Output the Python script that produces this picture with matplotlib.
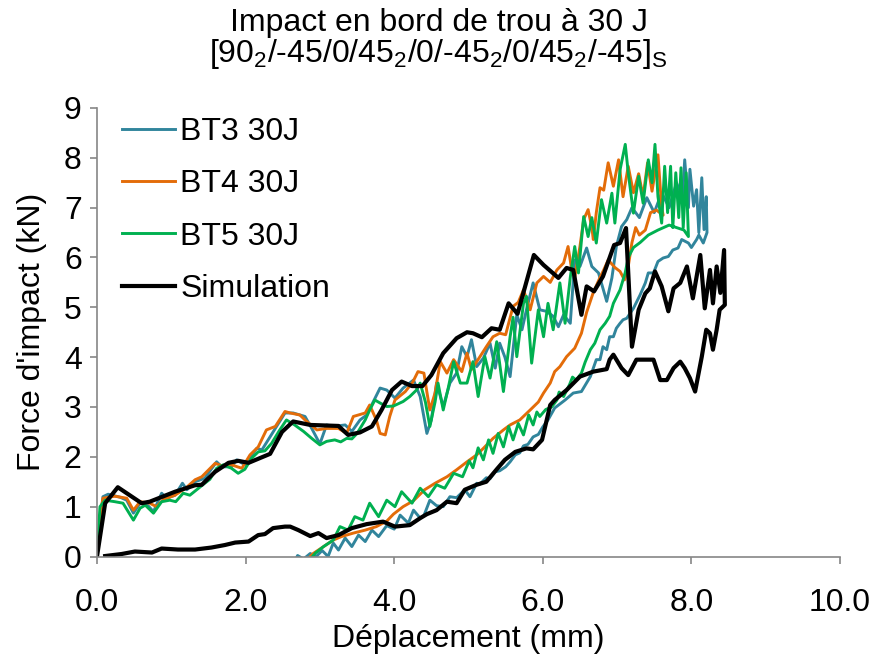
import matplotlib
matplotlib.use("Agg")
import matplotlib.pyplot as plt

plt.rcParams['font.family'] = ['Liberation Sans', 'DejaVu Sans']
plt.rcParams['mathtext.fontset'] = 'custom'
plt.rcParams['mathtext.rm'] = 'Liberation Sans'
plt.rcParams['mathtext.it'] = 'Liberation Sans'

# BT3 30J : loading branch then unloading branch (displacement mm, force kN)
bt3_x = [0, 0.08, 0.15, 0.31, 0.40, 0.49, 0.58, 0.65, 0.76, 0.87, 0.94, 1.05, 1.15, 1.21, 1.32, 1.45,
         1.61, 1.68, 1.81, 1.88, 1.99, 2.15, 2.22, 2.40, 2.53, 2.64, 2.80, 2.89, 3.00, 3.09, 3.18, 3.34,
         3.43, 3.54, 3.63, 3.81, 3.90, 4.01, 4.12, 4.26, 4.35, 4.44, 4.50, 4.57, 4.66, 4.75, 4.84, 4.91,
         4.98, 5.04, 5.11, 5.20, 5.29, 5.36, 5.42, 5.49, 5.56, 5.65, 5.72, 5.78, 5.87, 5.96, 6.05, 6.14,
         6.21, 6.28, 6.37, 6.43, 6.50, 6.59, 6.66, 6.75, 6.86, 6.93, 6.99, 7.06, 7.13, 7.20, 7.30, 7.40,
         7.50, 7.60, 7.70, 7.80, 7.88, 7.91, 7.96, 7.98, 8.03, 8.07, 8.10, 8.14, 8.17, 8.20, 8.21,
         8.16, 8.10, 8.07, 8.00, 7.96, 7.87, 7.82, 7.75, 7.69, 7.62, 7.55, 7.49, 7.42, 7.38, 7.31, 7.22,
         7.13, 7.08, 7.04, 6.99, 6.95, 6.90, 6.86, 6.81, 6.77, 6.72, 6.64, 6.52, 6.41, 6.30, 6.16, 6.07,
         6.00, 5.94, 5.87, 5.80, 5.74, 5.69, 5.63, 5.56, 5.50, 5.42, 5.36, 5.29, 5.24, 5.15, 5.11, 5.02,
         4.95, 4.84, 4.75, 4.66, 4.57, 4.48, 4.40, 4.35, 4.26, 4.19, 4.08, 4.00, 3.90, 3.79, 3.70, 3.61,
         3.52, 3.43, 3.34, 3.25, 3.18, 3.11, 3.03, 2.95, 2.87, 2.78, 2.70, 2.66]
bt3_y = [0, 1.20, 1.25, 1.19, 1.13, 0.87, 1.07, 1.08, 0.90, 1.27, 1.17, 1.23, 1.47, 1.34, 1.50, 1.57,
         1.90, 1.80, 1.80, 1.94, 1.84, 2.17, 2.14, 2.57, 2.88, 2.88, 2.81, 2.57, 2.26, 2.64, 2.61, 2.64,
         2.51, 2.74, 2.84, 3.38, 3.34, 3.18, 3.38, 3.54, 3.21, 2.47, 2.74, 3.48, 3.01, 3.48, 3.68, 4.21,
         4.01, 4.35, 3.81, 3.98, 4.28, 3.78, 4.28, 4.00, 3.61, 4.85, 4.55, 4.95, 5.49, 4.95, 4.92, 4.82,
         4.61, 4.85, 4.68, 5.95, 5.82, 6.19, 5.82, 5.69, 5.12, 5.59, 6.22, 6.62, 6.76, 7.00, 6.80, 7.20,
         6.90, 7.30, 7.00, 7.50, 7.20, 7.96, 7.00, 7.77, 7.03, 7.36, 6.50, 7.60, 6.56, 7.22, 6.50,
         6.29, 6.45, 6.36, 6.20, 6.29, 6.36, 6.19, 6.15, 6.02, 5.99, 5.92, 5.69, 5.69, 5.49, 5.25, 4.98,
         4.78, 4.75, 4.68, 4.58, 4.41, 4.41, 4.15, 4.21, 3.95, 3.95, 3.61, 3.31, 3.28, 3.14, 2.98, 2.74,
         2.60, 2.45, 2.40, 2.25, 2.22, 2.08, 2.04, 1.90, 1.80, 1.72, 1.70, 1.56, 1.58, 1.45, 1.47, 1.20,
         1.34, 1.18, 1.20, 1.00, 1.02, 1.13, 0.82, 0.77, 0.93, 0.67, 0.83, 0.55, 0.62, 0.40, 0.53, 0.30,
         0.43, 0.20, 0.37, 0.13, 0.27, 0.00, 0.12, 0.00, 0.06, -0.05, 0.02, -0.10]

# BT4 30J
bt4_x = [0, 0.05, 0.08, 0.24, 0.40, 0.49, 0.58, 0.71, 0.80, 0.90, 1.05, 1.20, 1.32, 1.41, 1.59, 1.68,
         1.81, 1.95, 2.06, 2.17, 2.28, 2.40, 2.53, 2.60, 2.73, 2.80, 2.96, 3.09, 3.25, 3.36, 3.45, 3.61,
         3.67, 3.76, 3.81, 3.88, 3.94, 4.01, 4.15, 4.25, 4.32, 4.40, 4.44, 4.48, 4.55, 4.62, 4.71, 4.80,
         4.91, 4.98, 5.04, 5.15, 5.24, 5.33, 5.42, 5.50, 5.60, 5.67, 5.74, 5.83, 5.92, 6.01, 6.10, 6.19,
         6.28, 6.34, 6.39, 6.43, 6.50, 6.55, 6.61, 6.66, 6.68, 6.72, 6.77, 6.82, 6.88, 6.95, 7.02, 7.08,
         7.15, 7.22, 7.29, 7.35, 7.41, 7.47, 7.55, 7.60, 7.62,
         7.53, 7.45, 7.38, 7.30, 7.25, 7.20, 7.15, 7.10, 7.04, 6.97, 6.88, 6.82, 6.77, 6.68, 6.59, 6.52,
         6.43, 6.32, 6.23, 6.16, 6.10, 6.01, 5.94, 5.83, 5.69, 5.56, 5.47, 5.33, 5.20, 5.11, 4.98, 4.84,
         4.71, 4.55, 4.41, 4.26, 4.12, 3.99, 3.90, 3.76, 3.61, 3.45, 3.29, 3.18, 3.05, 2.91, 2.87]
bt4_y = [0, 0.90, 1.17, 1.21, 1.17, 0.93, 1.10, 1.07, 1.00, 1.15, 1.23, 1.38, 1.54, 1.60, 1.87, 1.82,
         1.84, 1.77, 2.04, 2.20, 2.54, 2.61, 2.91, 2.88, 2.84, 2.74, 2.54, 2.57, 2.57, 2.47, 2.81, 2.88,
         3.04, 2.74, 2.47, 2.44, 2.81, 3.14, 3.31, 3.50, 3.71, 3.68, 3.30, 2.94, 3.28, 3.91, 3.68, 3.95,
         3.71, 4.08, 3.75, 4.00, 4.21, 4.41, 4.48, 4.45, 5.02, 5.10, 5.35, 4.95, 5.49, 5.62, 5.50, 5.75,
         5.89, 6.22, 5.75, 5.60, 6.22, 6.76, 6.96, 6.60, 6.36, 6.90, 7.40, 7.35, 7.90, 7.43, 7.96, 7.22,
         7.83, 7.30, 7.68, 7.22, 7.90, 7.33, 8.06, 7.00, 6.85,
         6.95, 6.90, 6.55, 6.45, 6.60, 6.30, 5.82, 5.55, 5.72, 5.80, 5.95, 5.75, 5.60, 5.30, 4.90, 4.48,
         4.18, 4.01, 3.81, 3.71, 3.48, 3.28, 3.10, 2.94, 2.74, 2.64, 2.54, 2.37, 2.17, 2.04, 1.90, 1.74,
         1.60, 1.47, 1.34, 1.12, 1.00, 0.85, 0.71, 0.60, 0.53, 0.47, 0.40, 0.33, 0.20, 0.06, 0.00]

# BT5 30J
bt5_x = [0, 0.04, 0.11, 0.24, 0.35, 0.42, 0.49, 0.58, 0.65, 0.76, 0.87, 0.98, 1.06, 1.16, 1.25, 1.39,
         1.45, 1.52, 1.61, 1.70, 1.81, 1.90, 1.99, 2.08, 2.17, 2.26, 2.35, 2.46, 2.55, 2.66, 2.78, 2.89,
         3.00, 3.09, 3.20, 3.28, 3.36, 3.43, 3.50, 3.61, 3.67, 3.74, 3.81, 3.90, 3.99, 4.12, 4.21, 4.30,
         4.35, 4.42, 4.48, 4.55, 4.59, 4.66, 4.73, 4.80, 4.89, 4.98, 5.06, 5.13, 5.22, 5.29, 5.38, 5.47,
         5.56, 5.60, 5.65, 5.74, 5.78, 5.85, 5.94, 6.01, 6.07, 6.14, 6.23, 6.30, 6.37, 6.43, 6.48, 6.55,
         6.61, 6.66, 6.72, 6.79, 6.86, 6.93, 6.97, 7.04, 7.11, 7.15, 7.22, 7.29, 7.35, 7.42, 7.47, 7.51,
         7.55, 7.60, 7.64, 7.68, 7.72, 7.75, 7.79, 7.83, 7.86, 7.89, 7.93, 7.96,
         7.90, 7.80, 7.70, 7.55, 7.42, 7.31, 7.22, 7.15, 7.11, 7.04, 6.95, 6.90, 6.84, 6.77, 6.70, 6.64,
         6.57, 6.52, 6.45, 6.40, 6.36, 6.28, 6.22, 6.19, 6.12, 6.04, 5.96, 5.92, 5.87, 5.81, 5.74, 5.67,
         5.60, 5.54, 5.47, 5.40, 5.33, 5.27, 5.20, 5.13, 5.06, 5.01, 4.92, 4.80, 4.68, 4.57, 4.46, 4.35,
         4.24, 4.10, 4.01, 3.90, 3.79, 3.67, 3.58, 3.47, 3.38, 3.27, 3.18, 3.05, 2.94, 2.90]
bt5_y = [0, 1.00, 1.13, 1.10, 1.07, 0.90, 0.73, 0.97, 1.03, 0.87, 1.10, 1.13, 1.10, 1.27, 1.23, 1.40,
         1.47, 1.55, 1.77, 1.84, 1.77, 1.67, 1.75, 1.97, 2.10, 2.12, 2.27, 2.54, 2.74, 2.64, 2.51, 2.37,
         2.24, 2.31, 2.34, 2.30, 2.37, 2.36, 2.47, 2.74, 2.94, 3.14, 3.08, 3.01, 3.02, 3.11, 3.21, 3.34,
         3.48, 3.10, 2.61, 3.10, 3.48, 2.94, 3.40, 3.91, 3.48, 3.48, 3.91, 3.21, 4.01, 3.58, 4.31, 3.31,
         4.41, 4.80, 4.01, 5.08, 5.22, 3.88, 4.95, 4.41, 5.08, 4.55, 5.49, 4.68, 5.60, 6.22, 5.69, 6.82,
         6.42, 6.80, 6.29, 7.16, 6.69, 7.29, 6.69, 7.76, 8.27, 7.70, 6.89, 7.63, 7.09, 7.96, 7.50, 8.27,
         7.22, 6.69, 7.83, 6.90, 7.83, 6.60, 7.70, 6.80, 7.80, 6.60, 7.70, 6.42,
         6.55, 6.60, 6.65, 6.55, 6.45, 6.30, 6.20, 6.00, 5.70, 5.35, 5.08, 4.82, 4.68, 4.55, 4.28, 4.15,
         3.90, 3.68, 3.54, 3.60, 3.45, 3.21, 3.30, 3.14, 3.00, 2.95, 2.81, 2.90, 2.64, 2.84, 2.44, 2.67,
         2.34, 2.61, 2.20, 2.47, 2.07, 2.34, 1.94, 2.18, 1.78, 1.92, 1.60, 1.67, 1.37, 1.44, 1.20, 1.37,
         1.07, 1.30, 1.00, 1.13, 0.80, 1.07, 0.73, 0.80, 0.53, 0.60, 0.33, 0.20, 0.07, 0.00]

# Simulation
sim_x = [0, 0.11, 0.28, 0.60, 0.71, 1.05, 1.32, 1.41, 1.59, 1.77, 1.90, 2.04, 2.33, 2.49, 2.64, 2.87,
         3.25, 3.38, 3.54, 3.70, 3.83, 3.97, 4.10, 4.24, 4.38, 4.50, 4.66, 4.84, 4.98, 5.06, 5.18, 5.31,
         5.42, 5.54, 5.66, 5.88, 6.01, 6.21, 6.32, 6.41, 6.52, 6.59, 6.69, 6.81, 6.96, 7.04, 7.12, 7.20,
         7.29, 7.38, 7.44, 7.51, 7.60, 7.69, 7.76, 7.85, 7.94, 8.02, 8.12, 8.18, 8.25, 8.29, 8.34, 8.39,
         8.44, 8.45,
         8.38, 8.34, 8.29, 8.25, 8.20, 8.14, 8.05, 7.98, 7.91, 7.85, 7.76, 7.67, 7.58, 7.49, 7.35, 7.26,
         7.15, 7.06, 6.95, 6.90, 6.86, 6.68, 6.50, 6.32, 6.16, 6.10, 5.99, 5.87, 5.78, 5.63, 5.49, 5.38,
         5.24, 5.11, 4.95, 4.84, 4.71, 4.57, 4.44, 4.35, 4.21, 4.01, 3.85, 3.63, 3.43, 3.25, 3.09, 2.98,
         2.87, 2.71, 2.60, 2.53, 2.37, 2.26, 2.17, 2.04, 1.86, 1.72, 1.54, 1.32, 1.09, 0.87, 0.74, 0.51,
         0.33, 0.11]
sim_y = [0, 1.07, 1.39, 1.07, 1.10, 1.30, 1.43, 1.44, 1.70, 1.88, 1.92, 1.88, 2.06, 2.50, 2.71, 2.64,
         2.62, 2.44, 2.49, 2.61, 2.94, 3.34, 3.51, 3.42, 3.42, 3.64, 4.08, 4.38, 4.50, 4.48, 4.40, 4.58,
         4.55, 5.08, 4.87, 6.05, 5.85, 5.59, 5.79, 5.75, 4.85, 5.42, 5.32, 5.62, 6.25, 6.29, 6.59, 4.21,
         4.95, 5.28, 5.38, 5.72, 5.42, 4.92, 5.38, 5.49, 5.82, 5.18, 6.05, 4.98, 5.75, 5.08, 5.82, 5.29,
         6.15, 5.05,
         4.95, 4.55, 4.15, 4.48, 4.55, 4.01, 3.31, 3.58, 3.78, 3.91, 3.78, 3.54, 3.54, 3.95, 3.95, 3.95,
         3.64, 3.78, 4.05, 3.95, 3.76, 3.71, 3.61, 3.34, 3.14, 3.04, 2.34, 2.15, 2.17, 2.10, 1.94, 1.75,
         1.50, 1.44, 1.34, 1.07, 1.10, 0.93, 0.85, 0.77, 0.63, 0.60, 0.70, 0.65, 0.57, 0.43, 0.37, 0.47,
         0.41, 0.53, 0.60, 0.60, 0.57, 0.45, 0.43, 0.30, 0.28, 0.23, 0.18, 0.14, 0.14, 0.16, 0.08, 0.10,
         0.05, 0.01]

FS = 23

fig = plt.figure(figsize=(8.77, 6.6), dpi=100)
ax = fig.add_axes([0.1106, 0.1568, 0.8472, 0.6796])

ax.plot(bt3_x, bt3_y, color='#31859C', lw=2.1, label='BT3 30J', solid_joinstyle='round')
ax.plot(bt4_x, bt4_y, color='#E36C09', lw=2.1, label='BT4 30J', solid_joinstyle='round')
ax.plot(bt5_x, bt5_y, color='#00B050', lw=2.1, label='BT5 30J', solid_joinstyle='round')
ax.plot(sim_x, sim_y, color='black', lw=3.0, label='Simulation', solid_joinstyle='round')

ax.set_xlim(0, 10)
ax.set_ylim(0, 9)
ax.set_xticks([0, 2, 4, 6, 8, 10])
ax.set_xticklabels(['0.0', '2.0', '4.0', '6.0', '8.0', '10.0'])
ax.set_yticks(range(10))

for s in ['top', 'right']:
    ax.spines[s].set_visible(False)
for s in ['left', 'bottom']:
    ax.spines[s].set_color('#868686')
    ax.spines[s].set_linewidth(1.2)
ax.tick_params(direction='out', length=5, width=1.2, color='#868686', labelsize=FS)
ax.tick_params(axis='x', pad=18)
ax.tick_params(axis='y', pad=6)

ax.set_xlabel('Déplacement (mm)', fontsize=FS, labelpad=4)
ax.set_ylabel("Force d'impact (kN)", fontsize=FS, labelpad=12)

fig.text(0.5, 0.965, 'Impact en bord de trou à 30 J', ha='center', va='center', fontsize=FS)
fig.text(0.5, 0.918, r'[90$_2$/-45/0/45$_2$/0/-45$_2$/0/45$_2$/-45]$_\mathrm{S}$',
         ha='center', va='center', fontsize=FS)

ax.legend(loc='upper left', bbox_to_anchor=(0.0336, 0.98), frameon=False, fontsize=FS,
          handlelength=1.65, handletextpad=0.18, labelspacing=0.7, borderpad=0, borderaxespad=0)

fig.savefig('out.png', dpi=100)
